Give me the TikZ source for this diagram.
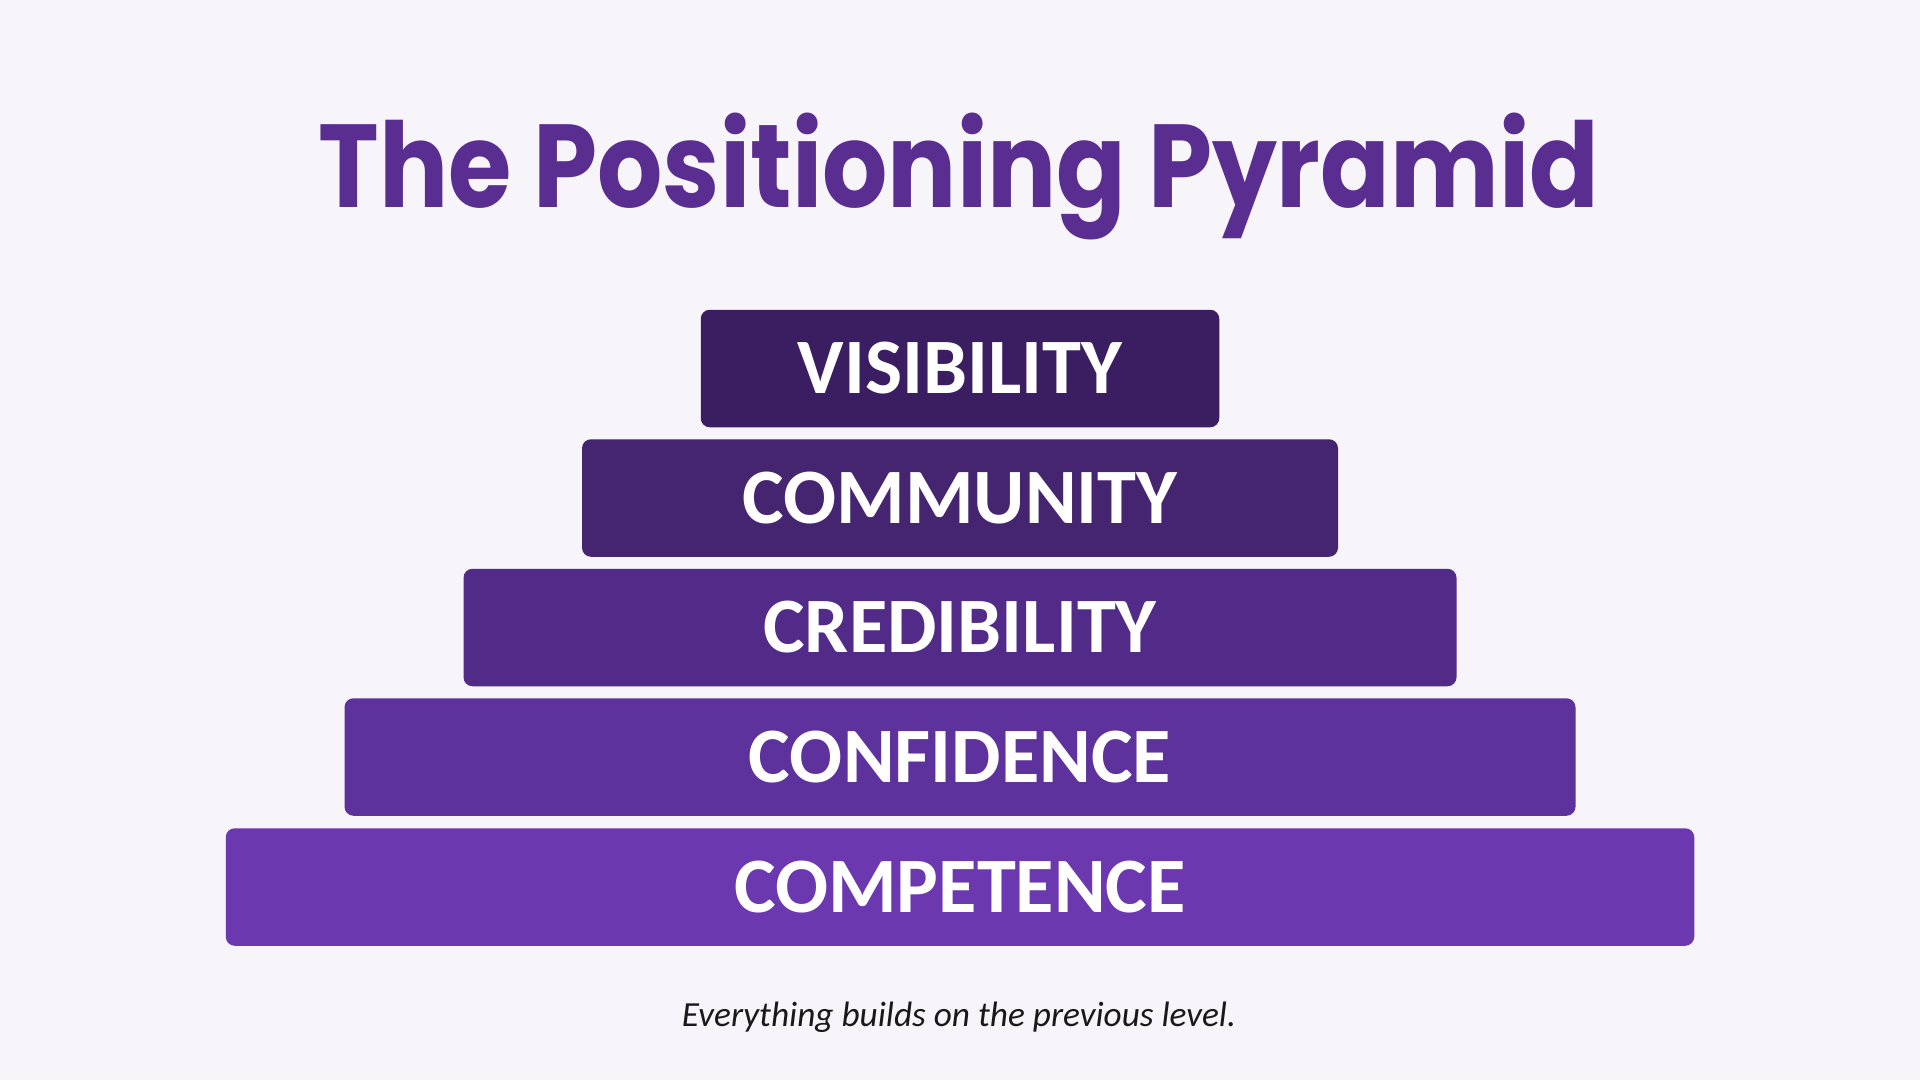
\documentclass[tikz,border=0pt]{standalone}
\usepackage{fontspec}
\usepackage{graphicx}
\setmainfont{Carlito}
\newfontfamily\titlefont{Poppins}
\definecolor{bgc}{HTML}{F7F4FA}
\definecolor{titlec}{HTML}{5A2D91}
\definecolor{c1}{HTML}{3B1E62}
\definecolor{c2}{HTML}{452470}
\definecolor{c3}{HTML}{512B87}
\definecolor{c4}{HTML}{5E329C}
\definecolor{c5}{HTML}{6C38AF}
\tikzset{
  tier/.style={rectangle, rounded corners=9pt, minimum height=117.5pt, inner sep=0pt,
    text=white, font=\fontsize{78.5}{94}\selectfont\bfseries, anchor=center},
}
\begin{document}
\begin{tikzpicture}[x=1pt,y=-1pt]
\fill[bgc] (0,0) rectangle (1920,1080);
\useasboundingbox (0,0) rectangle (1920,1080);
\node[anchor=base, inner sep=0pt, text=titlec, font=\titlefont\bfseries\fontsize{118}{130}\selectfont] (title) at (959,207) {\scalebox{0.87}[1]{The Positioning Pyramid}};
\node[tier, fill=c1, minimum width=518.5pt] (vis) at (960,368.5) {VISIBILITY};
\node[tier, fill=c2, minimum width=756pt] (com) at (960,498) {COMMUNITY};
\node[tier, fill=c3, minimum width=993pt] (cred) at (960,627.5) {CREDIBILITY};
\node[tier, fill=c4, minimum width=1231pt] (conf) at (960,757) {CONFIDENCE};
\node[tier, fill=c5, minimum width=1468.5pt] (comp) at (960,887) {COMPETENCE};
\node[anchor=base, inner sep=0pt, text=black!90, font=\itshape\fontsize{35.3}{42}\selectfont] (cap) at (959,1026) {Everything builds on the previous level.};
\end{tikzpicture}
\end{document}
